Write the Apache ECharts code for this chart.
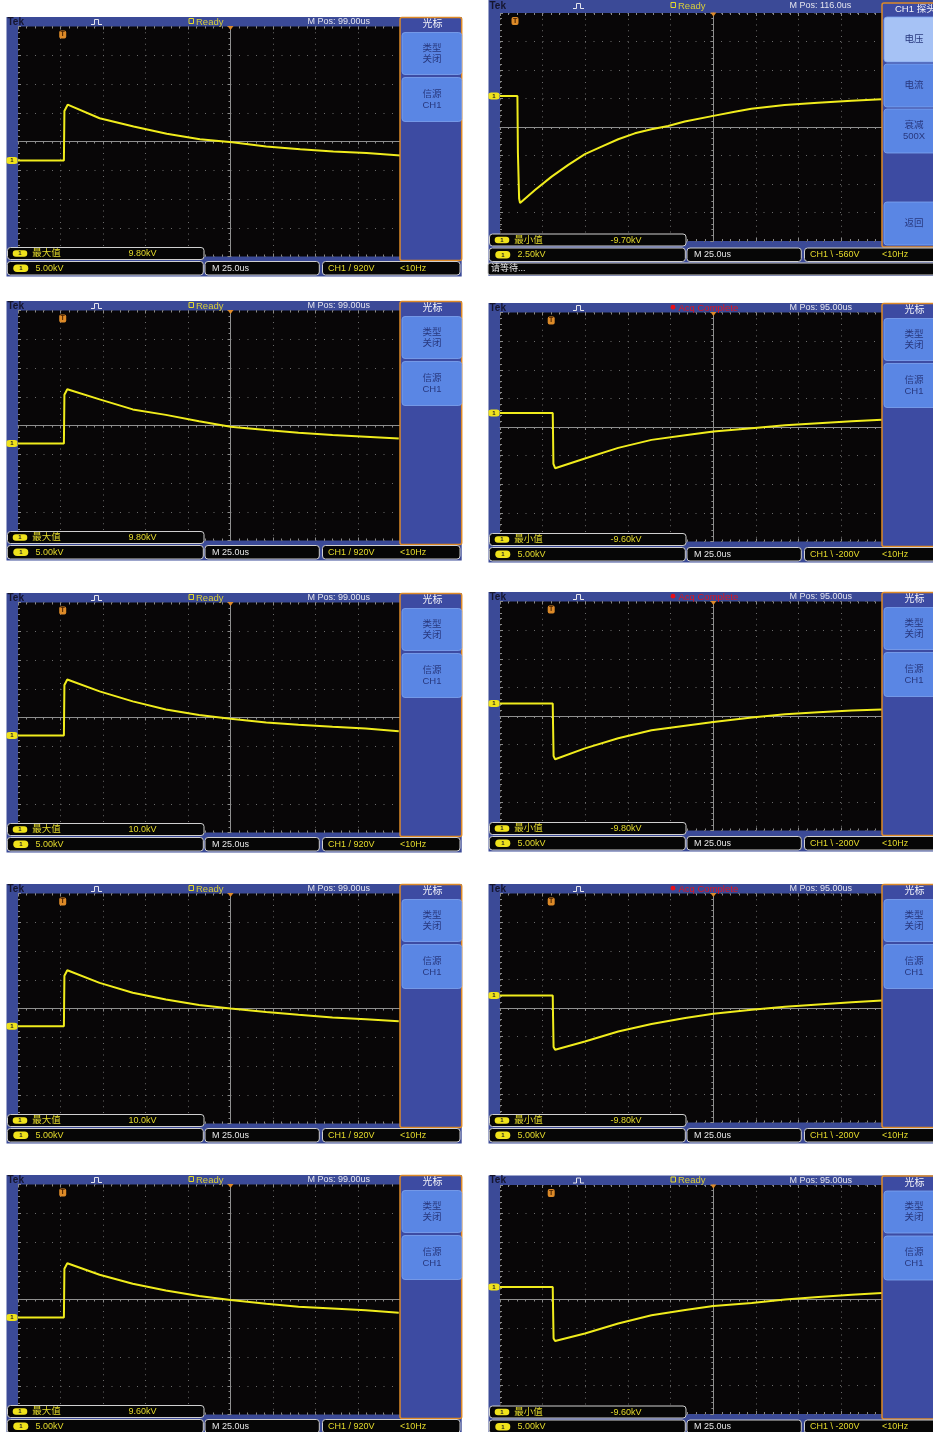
<!DOCTYPE html>
<html><head><meta charset="utf-8">
<script src="https://cdn.jsdelivr.net/npm/echarts@6/dist/echarts.min.js"></script>
<style>html,body{margin:0;padding:0;background:#fff}#c{width:933px;height:1432px}</style>
</head><body><div id="c"></div><script>
// ---------- DATA (time in µs from screen left, voltage in kV) ----------
const traceL1 = [[0,0],[27,0],[27.3,8.6],[29.2,9.7],[48,7.35],[68,5.9],[87.5,4.65],[107,3.7],[126,3.15],[146,2.45],[166,1.95],[185.5,1.55],[205,1.3],[225,0.85]];
const traceL2 = [[0,0],[27,0],[27.3,8.5],[29,9.45],[48,7.7],[67.5,5.95],[87,5.0],[106.5,3.9],[125,2.95],[146,2.35],[165,1.9],[185,1.5],[204.5,1.2],[224,0.9]];
const traceL3 = [[0,0],[27,0],[27.3,8.8],[29,9.75],[48,7.7],[67.5,5.95],[87,4.55],[106.5,3.6],[125,2.95],[146,2.3],[165,1.9],[185,1.55],[204.5,1.25],[224,0.75]];
const traceL4 = [[0,0],[27,0],[27.3,8.8],[29,9.75],[48,7.55],[67.5,5.85],[87,4.65],[106.5,3.7],[125,3.1],[146,2.5],[165,2.0],[185,1.55],[204.5,1.25],[224,0.9]];
const traceL5 = [[0,0],[27,0],[27.3,8.5],[29,9.45],[48,7.45],[67.5,5.9],[87,4.7],[106.5,3.75],[125,3.05],[146,2.4],[165,1.9],[185,1.6],[204.5,1.3],[224,0.85]];
const traceR1 = [[0,0],[10.2,0],[10.5,-5],[11.2,-9.0],[11.75,-9.4],[20.5,-8.25],[30.25,-7.08],[40,-6.05],[49.75,-5.1],[59.5,-4.45],[69.25,-3.8],[79,-3.28],[88.75,-2.93],[98.5,-2.63],[108.25,-2.25],[125,-1.75],[137.5,-1.38],[147.25,-1.13],[166.75,-0.8],[186.25,-0.6],[206,-0.43],[223.5,-0.3]];
const traceR2 = [[0,0],[30.9,0],[31.0,-2],[31.3,-8.9],[32.3,-9.65],[49.75,-7.95],[69.25,-6.1],[88.75,-4.7],[108.5,-3.9],[125,-3.25],[147.5,-2.65],[167,-2.15],[186.5,-1.8],[206,-1.45],[223.75,-1.2]];
const traceR3 = [[0,0],[30.9,0],[31.1,-4],[31.4,-9.2],[32.3,-9.75],[49.75,-7.85],[69.25,-6.1],[88.75,-4.7],[108.5,-3.9],[125,-3.25],[147.5,-2.45],[167,-1.9],[186.5,-1.55],[206,-1.25],[223.75,-1.05]];
const traceR4 = [[0,0],[30.9,0],[31.1,-4],[31.4,-9.0],[32.3,-9.5],[49.75,-8.05],[69.25,-6.3],[88.75,-5.0],[108.5,-3.95],[125,-3.2],[147.5,-2.5],[167,-2.0],[186.5,-1.6],[206,-1.2],[223.75,-0.9]];
const traceR5 = [[0,0],[30.9,0],[31.1,-4],[31.4,-9.0],[32.3,-9.45],[49.75,-8.15],[69.25,-6.4],[88.75,-4.95],[108.5,-4.05],[125,-3.35],[147.5,-2.8],[167,-2.2],[186.5,-1.75],[206,-1.35],[223.75,-1.05]];

const voltsPerDiv = [5,5,5,5,5,2.5,5,5,5,5];
const groundDiv   = [-0.66,-0.63,-0.63,-0.62,-0.63,1.09,0.49,0.44,0.44,0.44];
const triggerUs   = [26.3,26.3,26.3,26.3,26.3,8.8,30,30,30,30];
const measureName = ['最大值','最大值','最大值','最大值','最大值','最小值','最小值','最小值','最小值','最小值'];
const measureValue= ['9.80kV','9.80kV','10.0kV','10.0kV','9.60kV','-9.70kV','-9.60kV','-9.80kV','-9.80kV','-9.60kV'];
const scaleText   = ['5.00kV','5.00kV','5.00kV','5.00kV','5.00kV','2.50kV','5.00kV','5.00kV','5.00kV','5.00kV'];
const timeText    = 'M 25.0us';
const triggerText = ['CH1 / 920V','CH1 / 920V','CH1 / 920V','CH1 / 920V','CH1 / 920V','CH1 \\ -560V','CH1 \\ -200V','CH1 \\ -200V','CH1 \\ -200V','CH1 \\ -200V'];
const mposText    = ['M Pos: 99.00us','M Pos: 99.00us','M Pos: 99.00us','M Pos: 99.00us','M Pos: 99.00us','M Pos: 116.0us','M Pos: 95.00us','M Pos: 95.00us','M Pos: 95.00us','M Pos: 95.00us'];
const acqText     = ['Ready','Ready','Ready','Ready','Ready','Ready','Acq Complete','Acq Complete','Acq Complete','Ready'];
const cursorMenu  = ['光标', ['类型','关闭'], ['信源','CH1']];
const probeMenu   = ['CH1 探头', ['电压'], ['电流'], ['衰减','500X'], ['返回']];
const traces = [traceL1,traceL2,traceL3,traceL4,traceL5,traceR1,traceR2,traceR3,traceR4,traceR5];

// ---------- LAYOUT ----------
const gridLeft = [18,18,18,18,18,500,500,500,500,500];
const gridTop  = [26.5,310.5,602.5,893.5,1184.5,13,312.5,601.5,893.5,1185];
const gridW    = [425,425,425,425,425,426.7,426.7,426.7,426.7,426.7];
const gridH    = [230,230,230,230,230,228,229,229,229,229];

const FONT = '"Liberation Sans","Noto Sans CJK SC",sans-serif';
const fnt = (s,b) => (b?'bold ':'') + s + 'px ' + FONT;
const PANEL = '#3b4a97', MENU = '#3d4ba2', BTN = '#5a86e4', BTN_SEL = '#a6c2f5';
const YEL = '#e4da2c', ORANGE = '#dd8a28', TRACE = '#f0ec1c', PILL = '#efe21c';

function R(x,y,w,h,style,z,r){return {type:'rect',silent:true,z:z===undefined?60:z,shape:{x:x,y:y,width:w,height:h,r:r||0},style:style};}
function T(x,y,text,fill,font,align,z){return {type:'text',silent:true,z:z===undefined?62:z,x:x,y:y,style:{text:text,fill:fill,font:font,textAlign:align||'left',textVerticalAlign:'middle'}};}

function chrome(i){
  const ox = gridLeft[i], gy = gridTop[i];
  const right = i >= 5, probe = i === 5;
  const E = [];
  const bgTop = probe ? 0 : gy - 9.5;
  const bgBot = probe ? gy + 263 : gy + 250;
  const bgL = ox - 11.5, bgR = right ? 940 : ox + 443.7;
  E.push(R(bgL, bgTop, bgR-bgL, bgBot-bgTop, {fill:PANEL}, -10));
  const ty = probe ? gy - 7 : gy - 4.5;
  E.push(T(ox-10.5, ty, 'Tek', '#15152e', fnt(10,true)));
  E.push({type:'polyline',silent:true,z:62,shape:{points:[[ox+73,ty+2.5],[ox+76.5,ty+2.5],[ox+76.5,ty-2.5],[ox+80.5,ty-2.5],[ox+80.5,ty+2.5],[ox+84,ty+2.5]]},style:{stroke:'#e6e6ee',lineWidth:1,fill:null}});
  if (acqText[i] === 'Ready') {
    E.push(R(ox+171, ty-3.5, 4.5, 5, {fill:null, stroke:YEL, lineWidth:1}, 62));
    E.push(T(ox+178, ty, acqText[i], '#d8ce3a', fnt(9.5)));
  } else {
    E.push({type:'circle',silent:true,z:62,shape:{cx:ox+173,cy:ty-0.8,r:2.4},style:{fill:'#e8101a'}});
    E.push(T(ox+178.5, ty, acqText[i], '#e01420', fnt(9.5)));
  }
  E.push(T(ox+289.5, ty, mposText[i], '#e4e4ee', fnt(9)));

  // side menu
  const mx = ox + 382;
  const mTop = probe ? gy - 10 : gy - 9, mBot = gy + 234;
  E.push(R(mx, mTop, bgR - mx, mBot - mTop, {fill:MENU, stroke:ORANGE, lineWidth:1.5}, 60, 2));
  const menu = probe ? probeMenu : cursorMenu;
  if (probe) E.push(T(ox+395, mTop+6, menu[0], '#f2f2f8', fnt(9.5)));
  else E.push(T(ox+414.5, mTop+7, menu[0], '#f2f2f8', fnt(10), 'center'));
  const btns = probe ? [[gy+4,gy+49],[gy+51,gy+94],[gy+96,gy+140],[gy+189,gy+232]]
                     : [[gy+6,gy+48],[gy+51,gy+95]];
  btns.forEach((b,k) => {
    E.push(R(mx+2, b[0], bgR-mx-2, b[1]-b[0], {fill: (probe && k===0) ? BTN_SEL : BTN, stroke:'#7fa4f0', lineWidth:0.8}, 61, 3));
    const lines = menu[k+1];
    const cy = (b[0]+b[1])/2;
    lines.forEach((ln,j) => {
      const yy = lines.length === 1 ? cy : cy + (j-0.5)*11;
      E.push(T(ox+414, yy, ln, '#28387e', fnt(9.5), 'center'));
    });
  });

  // measurement readout
  const ry = gy + 221;
  E.push(R(ox-10.5, ry, 196.5, 12, {fill:'#060606', stroke:'#cfcfcf', lineWidth:1}, 60, 3));
  E.push(R(ox-5.3, ry+2.8, 14.6, 6.5, {fill:PILL}, 61, 3.25));
  E.push(T(ox+2, ry+6.2, '1', '#222', fnt(6,true), 'center'));
  E.push(T(ox+14.3, ry+6.2, measureName[i], YEL, fnt(9.5)));
  E.push(T(ox+110.5, ry+6.2, measureValue[i], YEL, fnt(9)));

  // status bar
  const sy = gy + 235;
  const bs = {fill:'#060606', stroke:'#cfcfcf', lineWidth:1};
  E.push(R(ox-10.7, sy, 196, 13.5, bs, 60, 3));
  E.push(R(ox-4.7, sy+3, 15, 7.5, {fill:PILL}, 61, 3.75));
  E.push(T(ox+2.8, sy+6.9, '1', '#222', fnt(6,true), 'center'));
  E.push(T(ox+17.5, sy+7, scaleText[i], YEL, fnt(9)));
  E.push(R(ox+187, sy, 114.3, 13.5, bs, 60, 3));
  E.push(T(ox+194, sy+7, timeText, '#e6e6e6', fnt(9)));
  E.push(R(ox+304.5, sy, (right ? 945 : ox+442) - (ox+304.5), 13.5, bs, 60, 3));
  E.push(T(ox+310, sy+7, triggerText[i], YEL, fnt(9)));
  E.push(T(ox+382, sy+7, '<10Hz', YEL, fnt(9)));
  if (probe) {
    E.push(R(488, gy+250, 460, 12, bs, 60, 2));
    E.push(T(491, gy+256, '请等待...', '#e6e6e6', fnt(9)));
  }
  return E;
}

const grids = [], xAxes = [], yAxes = [], series = [];
let graphics = [];
const TICK = '#8a8a8a';
traces.forEach((tr, i) => {
  grids.push({left:gridLeft[i], top:gridTop[i], width:gridW[i], height:gridH[i], show:true, backgroundColor:'#080607', borderWidth:0, containLabel:false});
  const xMain = xAxes.length;
  xAxes.push({gridIndex:i, type:'value', min:0, max:250, interval:25, position:'bottom',
    axisLine:{show:true, onZero:true, lineStyle:{color:'#8f8f8f', width:1}},
    axisTick:{show:true, length:3, lineStyle:{color:TICK}},
    minorTick:{show:true, splitNumber:5, length:2, lineStyle:{color:TICK}},
    axisLabel:{show:false},
    splitLine:{show:true, lineStyle:{color:'#6a6a6a', width:1, type:[1,4.75]}}});
  xAxes.push({gridIndex:i, type:'value', min:0, max:250, interval:25, position:'top',
    axisLine:{show:false, onZero:false}, axisTick:{show:true, inside:true, length:3, lineStyle:{color:TICK}},
    minorTick:{show:true, splitNumber:5, length:2, lineStyle:{color:TICK}}, axisLabel:{show:false}, splitLine:{show:false}});
  xAxes.push({gridIndex:i, type:'value', min:0, max:250, interval:25, position:'bottom',
    axisLine:{show:false, onZero:false}, axisTick:{show:true, inside:true, length:3, lineStyle:{color:TICK}},
    minorTick:{show:true, splitNumber:5, length:2, lineStyle:{color:TICK}}, axisLabel:{show:false}, splitLine:{show:false}});
  const yMain = yAxes.length;
  yAxes.push({gridIndex:i, type:'value', min:-4, max:4, interval:1, position:'left', offset:-gridW[i]/2,
    axisLine:{show:true, onZero:false, lineStyle:{color:'#8f8f8f', width:1}},
    axisTick:{show:true, length:3, lineStyle:{color:TICK}},
    minorTick:{show:true, splitNumber:5, length:2, lineStyle:{color:TICK}},
    axisLabel:{show:false},
    splitLine:{show:true, lineStyle:{color:'#6a6a6a', width:1, type:[1,7.5]}}});
  yAxes.push({gridIndex:i, type:'value', min:-4, max:4, interval:1, position:'left', offset:0,
    axisLine:{show:false, onZero:false}, axisTick:{show:true, inside:true, length:3, lineStyle:{color:TICK}},
    minorTick:{show:true, splitNumber:5, length:2, lineStyle:{color:TICK}}, axisLabel:{show:false}, splitLine:{show:false}});
  const vd = voltsPerDiv[i], g = groundDiv[i];
  series.push({type:'line', xAxisIndex:xMain, yAxisIndex:yMain, z:5, clip:false, silent:true,
    showSymbol:false, symbol:'none', animation:false,
    data: tr.map(p => [p[0], p[1]/vd + g]),
    lineStyle:{color:TRACE, width:2},
    markPoint:{animation:false, silent:true, data:[
      {coord:[0, g], symbol:'roundRect', symbolSize:[11,7], symbolOffset:[-6,0], itemStyle:{color:PILL},
        label:{show:true, formatter:'1', color:'#222', fontSize:6, fontWeight:'bold'}},
      {coord:[triggerUs[i], 4], symbol:'roundRect', symbolSize:[7,8], symbolOffset:[0,8], itemStyle:{color:ORANGE},
        label:{show:true, formatter:'T', color:'#4a2200', fontSize:7, fontWeight:'bold'}},
      {coord:[125, 4], symbol:'triangle', symbolRotate:180, symbolSize:[6,4], symbolOffset:[0,1.5], itemStyle:{color:ORANGE},
        label:{show:false}}
    ]}});
  graphics = graphics.concat(chrome(i));
});

const chart = echarts.init(document.getElementById('c'), null, {renderer:'canvas'});
chart.setOption({
  backgroundColor:'#ffffff',
  animation:false,
  textStyle:{fontFamily:FONT},
  grid:grids, xAxis:xAxes, yAxis:yAxes, series:series,
  graphic:{elements:graphics}
});
</script></body></html>
